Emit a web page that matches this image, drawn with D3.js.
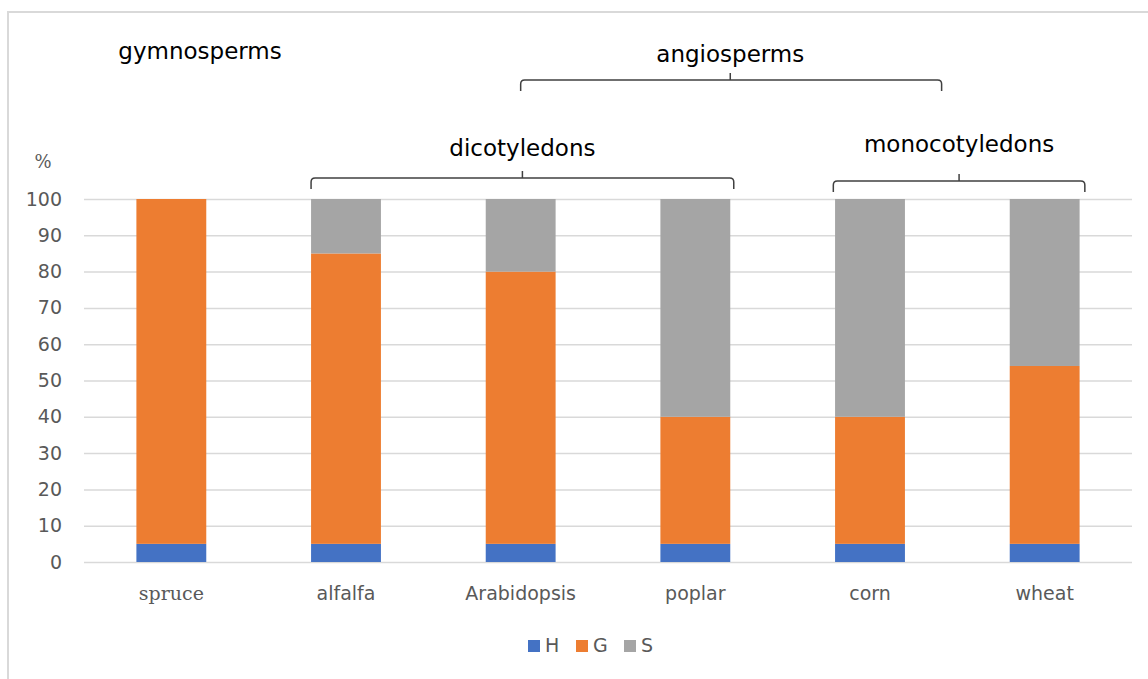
<!DOCTYPE html>
<html>
<head>
    <meta charset="utf-8">
    <title>Cell wall lignin composition</title>
    <script src="https://cdn.jsdelivr.net/npm/d3@7"></script>
    <style>
        body { margin: 0; background: #fff; }
    </style>
</head>
<body>
<script>
        var categories = ["spruce", "alfalfa", "Arabidopsis", "poplar", "corn", "wheat"];
        var seriesNames = ["H", "G", "S"];
        var hValues = [5, 5, 5, 5, 5, 5];
        var gValues = [95, 80, 75, 35, 35, 49];
        var sValues = [0, 15, 20, 60, 60, 46];
        var yTicks = [0, 10, 20, 30, 40, 50, 60, 70, 80, 90, 100];
        var colors = ["#4472C4", "#ED7D31", "#A5A5A5"];

        // brace annotations, in category-index units
        var braces = [
            { label: "dicotyledons", from: 0.8, to: 3.22, mid: 2.01, level: 1 },
            { label: "monocotyledons", from: 3.79, to: 5.23, mid: 4.51, level: 1 },
            { label: "angiosperms", from: 2.0, to: 4.41, mid: 3.2, level: 0 }
        ];

        var width = 1148, height = 679;
        var plotLeft = 84, plotRight = 1132, plotTop = 199, plotBottom = 562;

        var svg = d3.select("body").append("svg")
            .attr("width", width)
            .attr("height", height);

        svg.append("rect")
            .attr("x", 8).attr("y", 12)
            .attr("width", 1160).attr("height", 700)
            .attr("fill", "none")
            .attr("stroke", "#d9d9d9")
            .attr("stroke-width", 2);

        var x = d3.scaleBand()
            .domain(categories)
            .range([plotLeft, plotRight])
            .paddingInner(0.6)
            .paddingOuter(0.3);

        var xi = d3.scaleLinear().domain([-0.5, categories.length - 0.5]).range([plotLeft, plotRight]);

        var y = d3.scaleLinear().domain([0, 100]).range([plotBottom, plotTop]);

        var yAxis = svg.append("g")
            .attr("transform", "translate(" + plotLeft + ",0)")
            .call(d3.axisLeft(y).tickValues(yTicks).tickSize(-(plotRight - plotLeft)).tickPadding(22));
        yAxis.select(".domain").remove();
        yAxis.selectAll(".tick line").attr("stroke", "#d9d9d9").attr("stroke-width", 1.5);
        yAxis.selectAll(".tick text")
            .attr("fill", "#595959")
            .style("font-family", "DejaVu Sans")
            .style("font-size", "19px");

        svg.append("text")
            .attr("x", 43).attr("y", 168)
            .attr("text-anchor", "middle")
            .attr("fill", "#595959")
            .style("font-family", "DejaVu Serif")
            .style("font-size", "18px")
            .text("%");

        var rows = categories.map(function (c, i) {
            return { cat: c, H: hValues[i], G: gValues[i], S: sValues[i] };
        });
        var stacked = d3.stack().keys(seriesNames)(rows);

        svg.append("g").selectAll("g")
            .data(stacked)
            .join("g")
            .attr("fill", function (d, i) { return colors[i]; })
            .selectAll("rect")
            .data(function (d) { return d; })
            .join("rect")
            .attr("x", function (d) { return x(d.data.cat); })
            .attr("width", x.bandwidth())
            .attr("y", function (d) { return y(d[1]); })
            .attr("height", function (d) { return y(d[0]) - y(d[1]); });

        svg.append("g").selectAll("text")
            .data(categories)
            .join("text")
            .attr("x", function (d) { return x(d) + x.bandwidth() / 2; })
            .attr("y", 600)
            .attr("text-anchor", "middle")
            .attr("fill", "#595959")
            .style("font-family", function (d, i) { return i === 0 ? "DejaVu Serif" : "DejaVu Sans"; })
            .style("font-size", "19px")
            .text(function (d) { return d; });

        // braces
        var braceY = [80, 178];
        var labelY = [62, 156];
        braces.forEach(function (b) {
            var mono = b.label === "monocotyledons";
            var yb = mono ? braceY[1] + 3 : braceY[b.level];
            var x0 = xi(b.from), x1 = xi(b.to), xm = xi(b.mid);
            var r = 4, drop = 11;
            var p = d3.path();
            p.moveTo(x0, yb + drop);
            p.lineTo(x0, yb + r);
            p.quadraticCurveTo(x0, yb, x0 + r, yb);
            p.lineTo(x1 - r, yb);
            p.quadraticCurveTo(x1, yb, x1, yb + r);
            p.lineTo(x1, yb + drop);
            p.moveTo(xm, yb);
            p.lineTo(xm, yb - 7);
            svg.append("path")
                .attr("d", p.toString())
                .attr("fill", "none")
                .attr("stroke", "#404040")
                .attr("stroke-width", 1.5);
            svg.append("text")
                .attr("x", xm)
                .attr("y", mono ? labelY[1] - 4 : labelY[b.level])
                .attr("text-anchor", "middle")
                .attr("fill", "#000")
                .style("font-family", "DejaVu Sans")
                .style("font-size", "23px")
                .text(b.label);
        });

        svg.append("text")
            .attr("x", 200).attr("y", 59)
            .attr("text-anchor", "middle")
            .attr("fill", "#000")
            .style("font-family", "DejaVu Sans")
            .style("font-size", "23px")
            .text("gymnosperms");

        // legend
        var legend = svg.append("g").selectAll("g")
            .data(seriesNames)
            .join("g")
            .attr("transform", function (d, i) { return "translate(" + (528 + i * 48) + ",640)"; });
        legend.append("rect")
            .attr("width", 12).attr("height", 12)
            .attr("fill", function (d, i) { return colors[i]; });
        legend.append("text")
            .attr("x", 17).attr("y", 12)
            .attr("fill", "#595959")
            .style("font-family", "DejaVu Sans")
            .style("font-size", "19px")
            .text(function (d) { return d; });
    </script>
</body>
</html>
